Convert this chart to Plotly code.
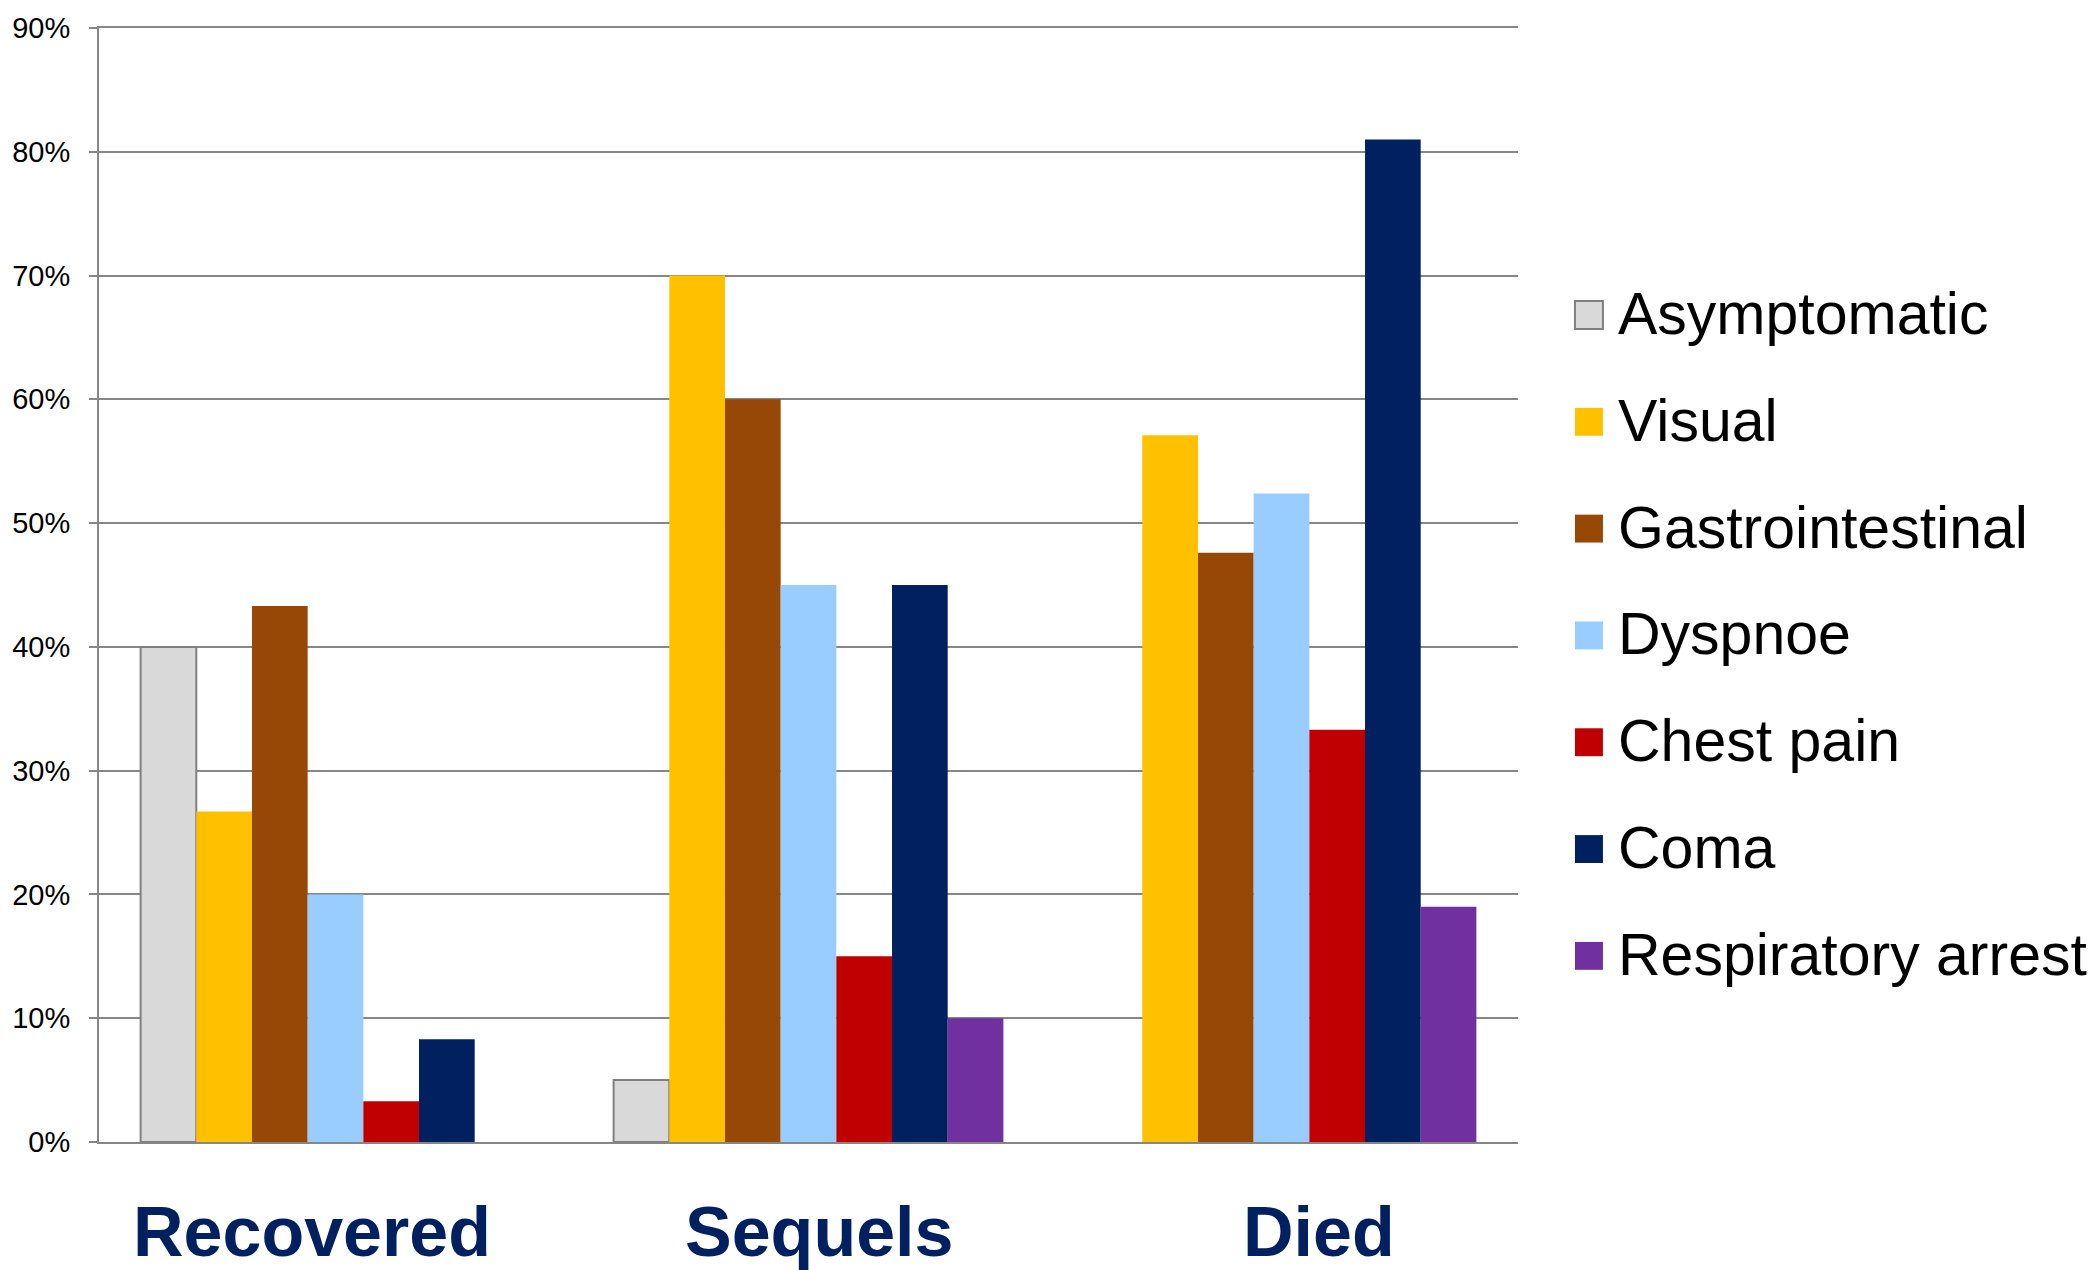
import plotly.graph_objects as go

# Outcome groups and symptom prevalence (share of patients in each group)
outcomes = ["Recovered", "Sequels", "Died"]
symptoms = ["Asymptomatic", "Visual", "Gastrointestinal", "Dyspnoe",
            "Chest pain", "Coma", "Respiratory arrest"]

asymptomatic = [0.400, 0.05, 0.0]
visual = [0.267, 0.70, 0.571]
gastrointestinal = [0.433, 0.60, 0.476]
dyspnoe = [0.200, 0.45, 0.524]
chest_pain = [0.033, 0.15, 0.333]
coma = [0.083, 0.45, 0.810]
respiratory_arrest = [0.0, 0.10, 0.190]

series = [asymptomatic, visual, gastrointestinal, dyspnoe,
          chest_pain, coma, respiratory_arrest]
colors = ["#D9D9D9", "#FFC000", "#974706", "#99CCFF",
          "#C00000", "#002060", "#7030A0"]

y_ticks = [0.0, 0.1, 0.2, 0.3, 0.4, 0.5, 0.6, 0.7, 0.8, 0.9]
y_tick_labels = ["0%", "10%", "20%", "30%", "40%", "50%", "60%", "70%", "80%", "90%"]

# Canvas and plot-area geometry (pixels)
W, H = 2094, 1270
M_L, M_R, M_T, M_B = 98, 576, 24, 128
PW, PH = W - M_L - M_R, H - M_T - M_B


def px_x(px):
    return (px - M_L) / PW


def px_y(py):
    return (H - M_B - py) / PH


GRID = "#868686"
OUTLINE = "#808080"
FONT = "Liberation Sans, Arial, sans-serif"

fig = go.Figure()
for name, vals, col in zip(symptoms, series, colors):
    outlined = name == "Asymptomatic"
    # only outline bars that actually have height
    widths = [2 if (outlined and v > 0) else 0 for v in vals]
    fig.add_trace(go.Bar(
        name=name, x=outcomes, y=vals,
        marker=dict(color=col,
                    line=dict(color=OUTLINE if outlined else col, width=widths)),
        showlegend=False,
    ))

# Category labels below the axis
label_shift = [-24, 10, 37]
annotations = []
for cat, dx in zip(outcomes, label_shift):
    annotations.append(dict(
        x=cat, xref="x", y=px_y(1232), yref="paper",
        xanchor="center", yanchor="middle", xshift=dx,
        text=f"<b>{cat}</b>", showarrow=False,
        font=dict(family=FONT, size=70, color="#002060"),
    ))

# Legend: colour swatches with labels to the right of the plot
shapes = []
row0, row_step = 312, 107.2
for i, (name, col) in enumerate(zip(symptoms, colors)):
    cy = row0 + i * row_step
    outlined = name == "Asymptomatic"
    shapes.append(dict(
        type="rect", xref="paper", yref="paper",
        x0=px_x(1575), x1=px_x(1603), y0=px_y(cy + 14), y1=px_y(cy - 14),
        fillcolor=col,
        line=dict(color=OUTLINE if outlined else col, width=2 if outlined else 0),
    ))
    annotations.append(dict(
        x=px_x(1616), xref="paper", y=px_y(cy - 1), yref="paper",
        xanchor="left", yanchor="middle", text=name, showarrow=False,
        font=dict(family=FONT, size=59, color="#000000"),
    ))

fig.update_layout(
    width=W, height=H,
    margin=dict(l=M_L, r=M_R, t=M_T, b=M_B, pad=0),
    paper_bgcolor="white", plot_bgcolor="white",
    barmode="group", bargap=0.176, bargroupgap=0,
    showlegend=False,
    annotations=annotations, shapes=shapes,
    font=dict(family=FONT, color="#000000"),
)
fig.update_xaxes(
    showticklabels=False, showgrid=False, zeroline=False,
    showline=True, mirror=True, linecolor=GRID, linewidth=2, ticks="",
)
fig.update_yaxes(
    range=[0, 0.9], tickvals=y_ticks, ticktext=y_tick_labels,
    showgrid=True, gridcolor=GRID, gridwidth=2, zeroline=False,
    showline=True, linecolor=GRID, linewidth=2,
    ticks="outside", ticklen=8, tickwidth=2, tickcolor=GRID,
    ticklabelstandoff=13,
    tickfont=dict(family=FONT, size=29, color="#000000"),
    layer="below traces",
)

fig.write_html("out.html")
